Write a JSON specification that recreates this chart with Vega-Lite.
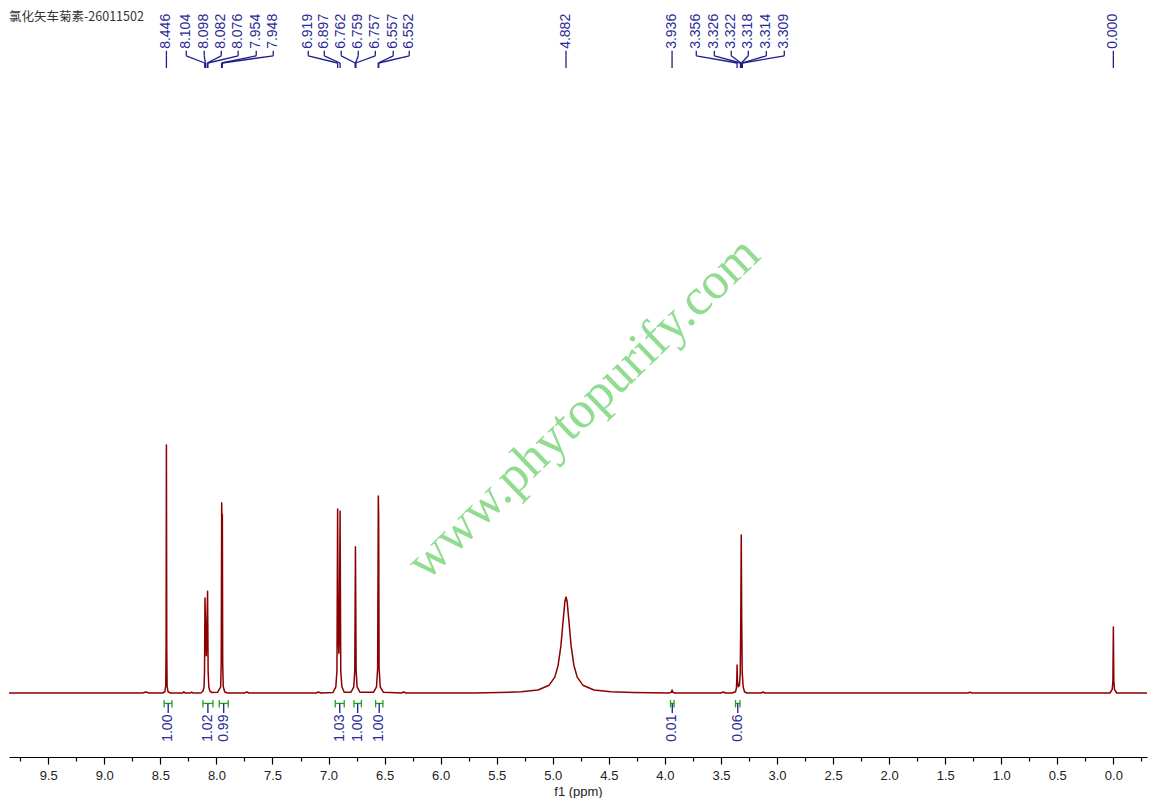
{
  "$schema": "https://vega.github.io/schema/vega-lite/v6.json",
  "width": 1138,
  "height": 757,
  "padding": {"left": 8, "top": 0, "right": 8, "bottom": 0},
  "background": "white",
  "config": {"view": {"stroke": null}},
  "resolve": {"axis": {"x": "independent"}},
  "datasets": {
    "spec": [
      {"ppm": 9.85, "i": 0}, {"ppm": 8.66, "i": 0}, {"ppm": 8.63, "i": 0.4}, {"ppm": 8.60, "i": 0},
      {"ppm": 8.48, "i": 0}, {"ppm": 8.46, "i": 0.5}, {"ppm": 8.452, "i": 3}, {"ppm": 8.449, "i": 18}, {"ppm": 8.446, "i": 100}, {"ppm": 8.443, "i": 18}, {"ppm": 8.440, "i": 3}, {"ppm": 8.432, "i": 0.5}, {"ppm": 8.41, "i": 0},
      {"ppm": 8.30, "i": 0}, {"ppm": 8.29, "i": 0.5}, {"ppm": 8.28, "i": 0},
      {"ppm": 8.23, "i": 0}, {"ppm": 8.22, "i": 0.4}, {"ppm": 8.21, "i": 0},
      {"ppm": 8.14, "i": 0}, {"ppm": 8.12, "i": 0.7}, {"ppm": 8.110, "i": 2.5}, {"ppm": 8.106, "i": 9}, {"ppm": 8.102, "i": 38.3}, {"ppm": 8.096, "i": 26}, {"ppm": 8.090, "i": 15}, {"ppm": 8.084, "i": 28}, {"ppm": 8.079, "i": 41}, {"ppm": 8.074, "i": 9}, {"ppm": 8.068, "i": 2.5}, {"ppm": 8.058, "i": 0.7}, {"ppm": 8.04, "i": 0.2},
      {"ppm": 7.99, "i": 0.3}, {"ppm": 7.962, "i": 2.5}, {"ppm": 7.957, "i": 12}, {"ppm": 7.953, "i": 76.7}, {"ppm": 7.950, "i": 68}, {"ppm": 7.947, "i": 72}, {"ppm": 7.944, "i": 12}, {"ppm": 7.939, "i": 2.5}, {"ppm": 7.925, "i": 0.4}, {"ppm": 7.90, "i": 0},
      {"ppm": 7.75, "i": 0}, {"ppm": 7.73, "i": 0.4}, {"ppm": 7.71, "i": 0},
      {"ppm": 7.11, "i": 0}, {"ppm": 7.09, "i": 0.4}, {"ppm": 7.07, "i": 0},
      {"ppm": 6.96, "i": 0.2}, {"ppm": 6.935, "i": 2.5}, {"ppm": 6.925, "i": 9}, {"ppm": 6.919, "i": 74.2}, {"ppm": 6.913, "i": 22}, {"ppm": 6.908, "i": 16}, {"ppm": 6.903, "i": 24}, {"ppm": 6.897, "i": 73.4}, {"ppm": 6.891, "i": 9}, {"ppm": 6.881, "i": 2.5}, {"ppm": 6.86, "i": 0.3},
      {"ppm": 6.80, "i": 0.3}, {"ppm": 6.775, "i": 2.5}, {"ppm": 6.766, "i": 9}, {"ppm": 6.760, "i": 59}, {"ppm": 6.754, "i": 9}, {"ppm": 6.745, "i": 2.5}, {"ppm": 6.72, "i": 0.3},
      {"ppm": 6.60, "i": 0.3}, {"ppm": 6.572, "i": 2.5}, {"ppm": 6.562, "i": 10}, {"ppm": 6.556, "i": 79.4}, {"ppm": 6.553, "i": 72}, {"ppm": 6.549, "i": 10}, {"ppm": 6.539, "i": 2.5}, {"ppm": 6.51, "i": 0.3},
      {"ppm": 6.35, "i": 0}, {"ppm": 6.33, "i": 0.4}, {"ppm": 6.31, "i": 0},
      {"ppm": 5.70, "i": 0}, {"ppm": 5.482, "i": 0.21}, {"ppm": 5.282, "i": 0.48}, {"ppm": 5.132, "i": 1.19}, {"ppm": 5.032, "i": 3.15}, {"ppm": 4.982, "i": 6.4}, {"ppm": 4.952, "i": 11.2}, {"ppm": 4.927, "i": 19.2}, {"ppm": 4.907, "i": 29.5}, {"ppm": 4.892, "i": 36.9}, {"ppm": 4.882, "i": 38.7}, {"ppm": 4.872, "i": 36.9}, {"ppm": 4.857, "i": 29.5}, {"ppm": 4.837, "i": 19.2}, {"ppm": 4.812, "i": 11.2}, {"ppm": 4.782, "i": 6.4}, {"ppm": 4.732, "i": 3.15}, {"ppm": 4.632, "i": 1.19}, {"ppm": 4.482, "i": 0.48}, {"ppm": 4.282, "i": 0.21},
      {"ppm": 3.96, "i": 0.05}, {"ppm": 3.942, "i": 0.3}, {"ppm": 3.936, "i": 1.2}, {"ppm": 3.930, "i": 0.3}, {"ppm": 3.91, "i": 0},
      {"ppm": 3.50, "i": 0}, {"ppm": 3.48, "i": 0.4}, {"ppm": 3.46, "i": 0},
      {"ppm": 3.40, "i": 0}, {"ppm": 3.37, "i": 0.5}, {"ppm": 3.362, "i": 2}, {"ppm": 3.358, "i": 6}, {"ppm": 3.356, "i": 11.3}, {"ppm": 3.353, "i": 5}, {"ppm": 3.345, "i": 2.5}, {"ppm": 3.335, "i": 3}, {"ppm": 3.328, "i": 8}, {"ppm": 3.323, "i": 30}, {"ppm": 3.319, "i": 63.7}, {"ppm": 3.315, "i": 30}, {"ppm": 3.310, "i": 8}, {"ppm": 3.302, "i": 2.5}, {"ppm": 3.29, "i": 0.5}, {"ppm": 3.27, "i": 0},
      {"ppm": 3.14, "i": 0}, {"ppm": 3.125, "i": 0.4}, {"ppm": 3.11, "i": 0},
      {"ppm": 1.30, "i": 0}, {"ppm": 1.28, "i": 0.3}, {"ppm": 1.26, "i": 0},
      {"ppm": 0.03, "i": 0}, {"ppm": 0.010, "i": 1.5}, {"ppm": 0.004, "i": 5}, {"ppm": 0.0, "i": 26.6}, {"ppm": -0.004, "i": 5}, {"ppm": -0.010, "i": 1.5}, {"ppm": -0.03, "i": 0}, {"ppm": -0.30, "i": 0}
    ],
    "labels": [
      {"t": "8.446", "lx": 8.446, "px": 8.446},
      {"t": "8.104", "lx": 8.269, "px": 8.104},
      {"t": "8.098", "lx": 8.109, "px": 8.098},
      {"t": "8.082", "lx": 7.957, "px": 8.082},
      {"t": "8.076", "lx": 7.806, "px": 8.076},
      {"t": "7.954", "lx": 7.645, "px": 7.954},
      {"t": "7.948", "lx": 7.493, "px": 7.948},
      {"t": "6.919", "lx": 7.181, "px": 6.919},
      {"t": "6.897", "lx": 7.038, "px": 6.897},
      {"t": "6.762", "lx": 6.887, "px": 6.762},
      {"t": "6.759", "lx": 6.735, "px": 6.759},
      {"t": "6.757", "lx": 6.583, "px": 6.757},
      {"t": "6.557", "lx": 6.423, "px": 6.557},
      {"t": "6.552", "lx": 6.280, "px": 6.552},
      {"t": "4.882", "lx": 4.882, "px": 4.882},
      {"t": "3.936", "lx": 3.936, "px": 3.936},
      {"t": "3.356", "lx": 3.720, "px": 3.356},
      {"t": "3.326", "lx": 3.559, "px": 3.326},
      {"t": "3.322", "lx": 3.408, "px": 3.322},
      {"t": "3.318", "lx": 3.256, "px": 3.318},
      {"t": "3.314", "lx": 3.095, "px": 3.314},
      {"t": "3.309", "lx": 2.935, "px": 3.309},
      {"t": "0.000", "lx": 0.0, "px": 0.0}
    ],
    "integ": [
      {"v": "1.00", "a": 8.466, "b": 8.397, "m": 8.43},
      {"v": "1.02", "a": 8.120, "b": 8.031, "m": 8.076},
      {"v": "0.99", "a": 7.975, "b": 7.895, "m": 7.935},
      {"v": "1.03", "a": 6.940, "b": 6.860, "m": 6.90},
      {"v": "1.00", "a": 6.773, "b": 6.707, "m": 6.74},
      {"v": "1.00", "a": 6.580, "b": 6.515, "m": 6.548},
      {"v": "0.01", "a": 3.950, "b": 3.918, "m": 3.934},
      {"v": "0.06", "a": 3.370, "b": 3.330, "m": 3.35}
    ],
    "wm": [{"t": "www.phytopurify.com", "x": 4.728, "y": 114.9}],
    "ttl": [{"t": "氯化矢车菊素-26011502", "x": 9.85, "y": 272.6}]
  },
  "layer": [
    {
      "data": {"name": "wm"},
      "mark": {"type": "text", "font": "Liberation Serif", "fontSize": 52, "angle": -44, "align": "center", "baseline": "middle", "color": "#7fd77f", "opacity": 0.85},
      "encoding": {
        "x": {"field": "x", "type": "quantitative", "scale": {"domain": [-0.3, 9.85], "reverse": true, "nice": false, "zero": false}, "axis": null},
        "y": {"field": "y", "type": "quantitative", "scale": {"domain": [-25.8, 279.4], "nice": false, "zero": false}, "axis": null},
        "text": {"field": "t"}
      }
    },
    {
      "data": {"name": "ttl"},
      "mark": {"type": "text", "font": "Noto Sans CJK SC", "fontSize": 12.5, "align": "left", "baseline": "middle", "color": "#333333"},
      "encoding": {
        "x": {"field": "x", "type": "quantitative", "scale": {"domain": [-0.3, 9.85], "reverse": true, "nice": false, "zero": false}, "axis": null},
        "y": {"field": "y", "type": "quantitative", "scale": {"domain": [-25.8, 279.4], "nice": false, "zero": false}, "axis": null},
        "text": {"field": "t"}
      }
    },
    {
      "data": {"name": "spec"},
      "mark": {"type": "point", "opacity": 0, "size": 1},
      "encoding": {
        "x": {"field": "ppm", "type": "quantitative",
          "scale": {"domain": [-0.3, 9.85], "reverse": true, "nice": false, "zero": false},
          "axis": {
            "orient": "bottom",
            "title": null,
            "values": [9.75, 9.25, 8.75, 8.25, 7.75, 7.25, 6.75, 6.25, 5.75, 5.25, 4.75, 4.25, 3.75, 3.25, 2.75, 2.25, 1.75, 1.25, 0.75, 0.25, -0.25],
            "labels": false, "domain": false, "grid": false,
            "tickSize": 4, "tickColor": "#000000", "tickWidth": 1.2
          }
        },
        "y": {"field": "i", "type": "quantitative", "scale": {"domain": [-25.8, 279.4], "nice": false, "zero": false}, "axis": null}
      }
    },
    {
      "data": {"name": "spec"},
      "mark": {"type": "line", "color": "#8b0000", "strokeWidth": 1.5, "strokeJoin": "round", "interpolate": "linear"},
      "encoding": {
        "x": {"field": "ppm", "type": "quantitative",
          "scale": {"domain": [-0.3, 9.85], "reverse": true, "nice": false, "zero": false},
          "axis": {
            "orient": "bottom",
            "title": "f1 (ppm)",
            "values": [9.5, 9.0, 8.5, 8.0, 7.5, 7.0, 6.5, 6.0, 5.5, 5.0, 4.5, 4.0, 3.5, 3.0, 2.5, 2.0, 1.5, 1.0, 0.5, 0.0],
            "format": ".1f",
            "tickSize": 7,
            "grid": false,
            "domainColor": "#000000", "domainWidth": 1,
            "tickColor": "#000000", "tickWidth": 1.2,
            "labelFont": "Liberation Sans", "labelFontSize": 13, "labelColor": "#222222", "labelPadding": 5,
            "labelOverlap": false, "labelFlush": false,
            "titleFont": "Liberation Sans", "titleFontSize": 13, "titleFontWeight": "normal", "titleColor": "#222222", "titlePadding": 3
          }
        },
        "y": {"field": "i", "type": "quantitative", "scale": {"domain": [-25.8, 279.4], "nice": false, "zero": false}, "axis": null}
      }
    },
    {
      "data": {"name": "labels"},
      "mark": {"type": "text", "font": "Liberation Sans", "fontSize": 14, "angle": 270, "align": "left", "baseline": "middle", "color": "#2a2a96"},
      "encoding": {
        "x": {"field": "lx", "type": "quantitative", "scale": {"domain": [-0.3, 9.85], "reverse": true, "nice": false, "zero": false}, "axis": null},
        "y": {"datum": 259.7, "type": "quantitative", "scale": {"domain": [-25.8, 279.4], "nice": false, "zero": false}, "axis": null},
        "text": {"field": "t"}
      }
    },
    {
      "data": {"name": "labels"},
      "mark": {"type": "rule", "color": "#1e1e88", "strokeWidth": 1.3},
      "encoding": {
        "x": {"field": "lx", "type": "quantitative", "scale": {"domain": [-0.3, 9.85], "reverse": true, "nice": false, "zero": false}, "axis": null},
        "y": {"datum": 258.9, "type": "quantitative", "scale": {"domain": [-25.8, 279.4], "nice": false, "zero": false}, "axis": null},
        "y2": {"datum": 256.9}
      }
    },
    {
      "data": {"name": "labels"},
      "mark": {"type": "rule", "color": "#1e1e88", "strokeWidth": 1.3},
      "encoding": {
        "x": {"field": "lx", "type": "quantitative", "scale": {"domain": [-0.3, 9.85], "reverse": true, "nice": false, "zero": false}, "axis": null},
        "x2": {"field": "px"},
        "y": {"datum": 256.9, "type": "quantitative", "scale": {"domain": [-25.8, 279.4], "nice": false, "zero": false}, "axis": null},
        "y2": {"datum": 254.0}
      }
    },
    {
      "data": {"name": "labels"},
      "mark": {"type": "rule", "color": "#1e1e88", "strokeWidth": 1.3},
      "encoding": {
        "x": {"field": "px", "type": "quantitative", "scale": {"domain": [-0.3, 9.85], "reverse": true, "nice": false, "zero": false}, "axis": null},
        "y": {"datum": 254.0, "type": "quantitative", "scale": {"domain": [-25.8, 279.4], "nice": false, "zero": false}, "axis": null},
        "y2": {"datum": 252.0}
      }
    },
    {
      "data": {"name": "integ"},
      "mark": {"type": "rule", "color": "#22a022", "strokeWidth": 1.3},
      "encoding": {
        "x": {"field": "a", "type": "quantitative", "scale": {"domain": [-0.3, 9.85], "reverse": true, "nice": false, "zero": false}, "axis": null},
        "x2": {"field": "b"},
        "y": {"datum": -4.2, "type": "quantitative", "scale": {"domain": [-25.8, 279.4], "nice": false, "zero": false}, "axis": null}
      }
    },
    {
      "data": {"name": "integ"},
      "mark": {"type": "rule", "color": "#22a022", "strokeWidth": 1.3},
      "encoding": {
        "x": {"field": "a", "type": "quantitative", "scale": {"domain": [-0.3, 9.85], "reverse": true, "nice": false, "zero": false}, "axis": null},
        "y": {"datum": -2.8, "type": "quantitative", "scale": {"domain": [-25.8, 279.4], "nice": false, "zero": false}, "axis": null},
        "y2": {"datum": -5.8}
      }
    },
    {
      "data": {"name": "integ"},
      "mark": {"type": "rule", "color": "#22a022", "strokeWidth": 1.3},
      "encoding": {
        "x": {"field": "b", "type": "quantitative", "scale": {"domain": [-0.3, 9.85], "reverse": true, "nice": false, "zero": false}, "axis": null},
        "y": {"datum": -2.8, "type": "quantitative", "scale": {"domain": [-25.8, 279.4], "nice": false, "zero": false}, "axis": null},
        "y2": {"datum": -5.8}
      }
    },
    {
      "data": {"name": "integ"},
      "mark": {"type": "rule", "color": "#1e1e88", "strokeWidth": 1.3},
      "encoding": {
        "x": {"field": "m", "type": "quantitative", "scale": {"domain": [-0.3, 9.85], "reverse": true, "nice": false, "zero": false}, "axis": null},
        "y": {"datum": -4.2, "type": "quantitative", "scale": {"domain": [-25.8, 279.4], "nice": false, "zero": false}, "axis": null},
        "y2": {"datum": -8.1}
      }
    },
    {
      "data": {"name": "integ"},
      "mark": {"type": "text", "font": "Liberation Sans", "fontSize": 14, "angle": 270, "align": "right", "baseline": "middle", "color": "#2a2a96"},
      "encoding": {
        "x": {"field": "m", "type": "quantitative", "scale": {"domain": [-0.3, 9.85], "reverse": true, "nice": false, "zero": false}, "axis": null},
        "y": {"datum": -8.7, "type": "quantitative", "scale": {"domain": [-25.8, 279.4], "nice": false, "zero": false}, "axis": null},
        "text": {"field": "v"}
      }
    }
  ]
}
